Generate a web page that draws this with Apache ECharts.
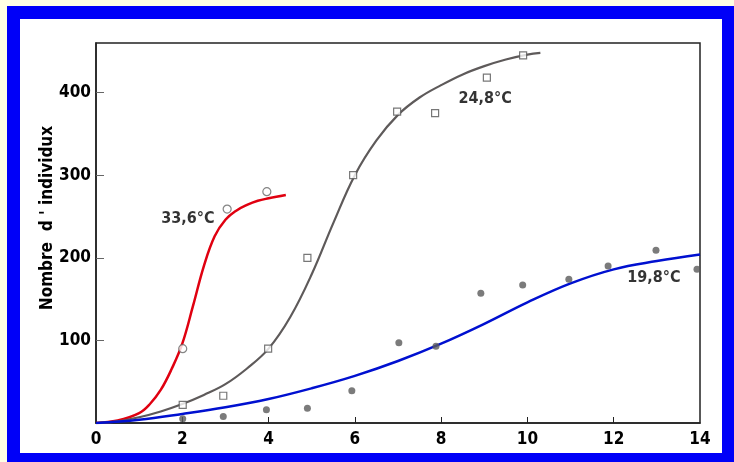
<!DOCTYPE html>
<html>
<head>
<meta charset="utf-8">
<script src="https://cdn.jsdelivr.net/npm/echarts@6/dist/echarts.min.js"></script>
<style>
  html, body { margin:0; padding:0; background:#FFFFE4; }
  #wrap { position:absolute; left:0; top:0; width:734px; height:462px; background:#FFFFE4; }
  #blue { position:absolute; left:7px; top:6px; width:727px; height:456px; background:#0000F8; }
  #white { position:absolute; left:20px; top:19px; width:702px; height:434px; background:#FFFFFF; }
  #chart { position:absolute; left:0; top:0; width:734px; height:462px; }
</style>
</head>
<body>
<div id="wrap"><div id="blue"></div><div id="white"></div><div id="chart"></div></div>
<script>
// Fitted curves
const redCurveX  = [0, 0.5, 1, 1.25, 1.5, 1.75, 2, 2.25, 2.5, 2.75, 3, 3.25, 3.5, 3.75, 4, 4.4];
const redCurveY  = [0, 3, 12, 23, 40, 65, 96, 142, 190, 226, 246, 257, 264, 269, 272, 276];
const greyCurveX = [0, 0.5, 1, 1.5, 2, 2.5, 3, 3.5, 4, 4.5, 5, 5.5, 6, 6.5, 7, 7.5, 8, 8.5, 9, 9.5, 10, 10.3];
const greyCurveY = [0, 2, 7, 14, 23, 34, 47, 66, 90, 128, 180, 242, 300, 342, 373, 394, 409, 422, 432, 440, 446, 448];
const blueCurveX = [0, 1, 2, 3, 4, 5, 6, 7, 8, 9, 10, 11, 12, 13, 14];
const blueCurveY = [0, 4, 11, 19, 29, 42, 57, 75, 96, 120, 146, 169, 186, 196, 204];

// Observed points
const redPtsX  = [2.01, 3.04, 3.96];
const redPtsY  = [90, 259, 280];
const greyPtsX = [2.01, 2.95, 3.99, 4.9, 5.96, 6.98, 7.86, 9.06, 9.9];
const greyPtsY = [22, 33, 90, 200, 300, 377, 375, 418, 445];
const bluePtsX = [2.01, 2.95, 3.95, 4.9, 5.93, 7.02, 7.88, 8.92, 9.89, 10.96, 11.87, 12.98, 13.93];
const bluePtsY = [5, 8, 16, 18, 39, 97, 93, 157, 167, 174, 190, 209, 186];

// Annotations
const tempLabels = ['33,6°C', '24,8°C', '19,8°C'];
const tempX = [2.13, 9.02, 12.93];
const tempY = [247, 392, 176];

const xTicks = [0, 2, 4, 6, 8, 10, 12, 14];
const yTicks = [100, 200, 300, 400];
const yName = "Nombre  d ' individux";

const zip = (a, b) => a.map((v, i) => [v, b[i]]);
const FONT = '"DejaVu Sans Condensed", "DejaVu Sans", sans-serif';

const chart = echarts.init(document.getElementById('chart'), null, {renderer: 'canvas'});
chart.setOption({
  backgroundColor: 'transparent',
  animation: false,
  grid: { left: 96, right: 34, top: 43, bottom: 39, show: true, borderColor: '#222', borderWidth: 1.5 },
  xAxis: {
    type: 'value', min: 0, max: 14, interval: 2,
    axisLine: { show: true, lineStyle: { color: '#222', width: 1.5 } },
    axisTick: { show: true, inside: true, length: 6, lineStyle: { color: '#222', width: 1 }, customValues: xTicks.slice(1, -1) },
    axisLabel: { color: '#000', fontFamily: FONT, fontWeight: 'bold', fontSize: 17, margin: 8, customValues: xTicks },
    splitLine: { show: false }
  },
  yAxis: {
    type: 'value', min: 0, max: 460, interval: 100,
    name: yName, nameLocation: 'middle', nameRotate: 90, nameGap: 40, nameMoveOverlap: false,
    nameTextStyle: { color: '#000', fontFamily: FONT, fontWeight: 'bold', fontSize: 17, padding: [0, 0, 0, 30] },
    axisLine: { show: true, lineStyle: { color: '#222', width: 1.5 } },
    axisTick: { show: true, inside: true, length: 8, lineStyle: { color: '#666', width: 1 }, customValues: yTicks },
    axisLabel: { color: '#000', fontFamily: FONT, fontWeight: 'bold', fontSize: 17, margin: 5, customValues: yTicks },
    splitLine: { show: false }
  },
  series: [
    { type: 'line', data: zip(redCurveX, redCurveY), smooth: 0.4, showSymbol: false, lineStyle: { color: '#E00010', width: 2.5 }, z: 3 },
    { type: 'line', data: zip(greyCurveX, greyCurveY), smooth: 0.4, showSymbol: false, lineStyle: { color: '#5E5A5A', width: 2.2 }, z: 3 },
    { type: 'line', data: zip(blueCurveX, blueCurveY), smooth: 0.4, showSymbol: false, lineStyle: { color: '#0010D0', width: 2.5 }, z: 3 },
    { type: 'scatter', data: zip(redPtsX, redPtsY), symbol: 'circle', symbolSize: 8,
      itemStyle: { color: '#fff', borderColor: '#666', borderWidth: 1.2 }, z: 4 },
    { type: 'scatter', data: zip(greyPtsX, greyPtsY), symbol: 'rect', symbolSize: 7,
      itemStyle: { color: '#fff', borderColor: '#555', borderWidth: 1.2 }, z: 4 },
    { type: 'scatter', data: zip(bluePtsX, bluePtsY), symbol: 'circle', symbolSize: 7,
      itemStyle: { color: '#5a5a5a' }, z: 4 },
    { type: 'scatter', data: tempLabels.map((t, i) => ({ value: [tempX[i], tempY[i]], name: t })),
      symbolSize: 0, silent: true, z: 5,
      label: { show: true, position: 'inside', formatter: p => p.name, color: '#000', textBorderWidth: 0, textBorderColor: 'transparent',
               fontFamily: FONT, fontWeight: 'bold', fontSize: 16 } }
  ]
});
</script>
</body>
</html>
